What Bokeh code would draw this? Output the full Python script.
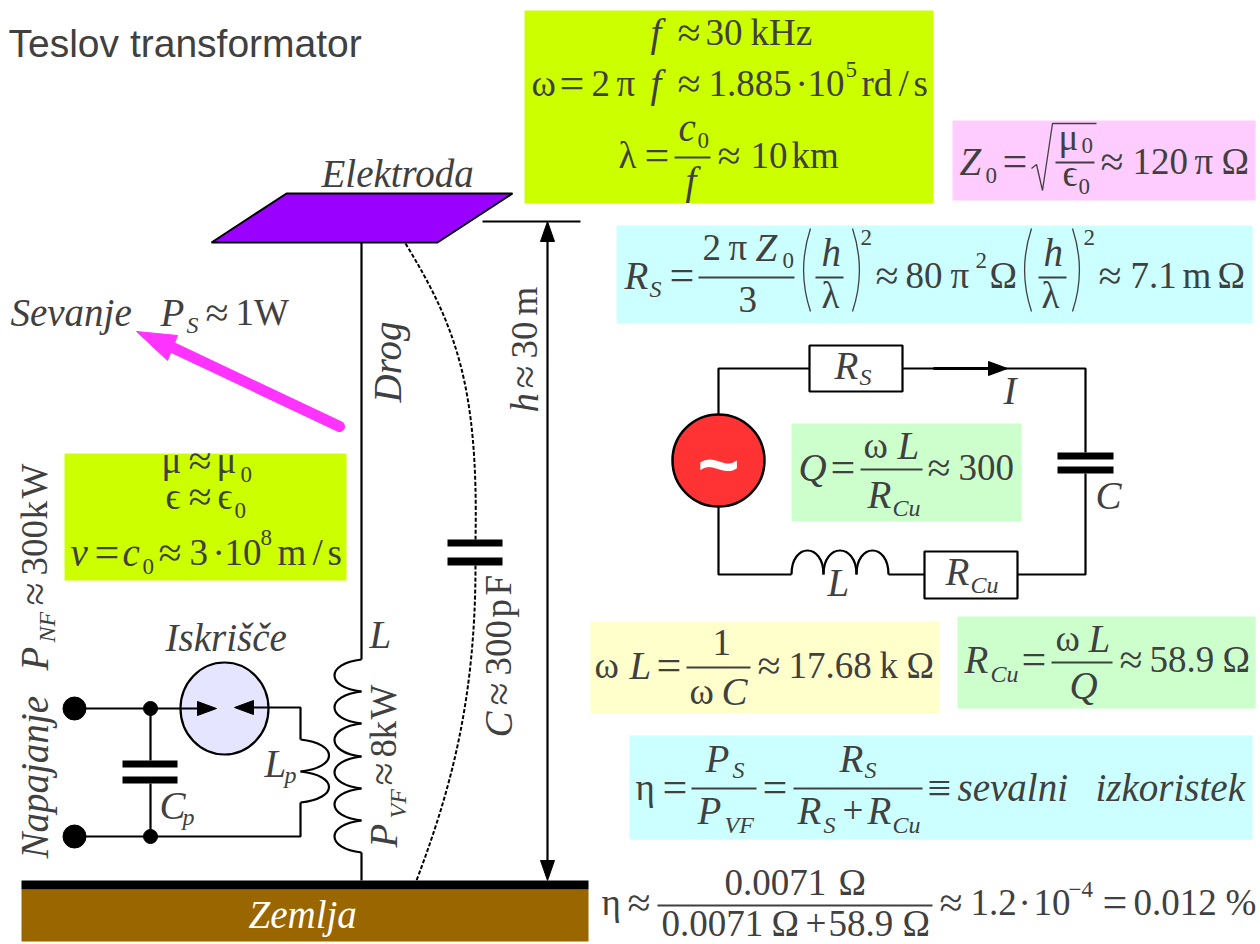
from math import pi
from bokeh.plotting import figure
from bokeh.models import Range1d, ColumnDataSource
from bokeh.core.properties import value
from bokeh.embed import file_html
from bokeh.resources import INLINE

INK = "#404040"
SERIF = "Liberation Serif"
CENTER_SHIFT = 0.34

# ---- filled boxes: left, right, top, bottom, colour
BOX_LEFT = [524, 952, 616, 64, 791, 590, 957, 629, 21, 21]
BOX_RIGHT = [933, 1255, 1252, 346, 1021, 939, 1255, 1252, 588, 588]
BOX_TOP = [10, 120, 225, 453, 423, 621, 616, 735, 889, 880]
BOX_BOTTOM = [203, 200, 323, 580, 521, 713, 708, 839, 941, 889]
BOX_COLOR = ["#CCFF00", "#FFCCFF", "#CCFFFF", "#CCFF00", "#CCFFCC", "#FFFFCC", "#CCFFCC", "#CCFFFF", "#996600", "#000000"]

# ---- black wires
WIRES = [
    ([361, 361], [242, 659]), ([361, 361], [852, 880]),
    ([482, 580], [221, 221]), ([547, 547], [232, 870]),
    ([74, 200], [708, 708]), ([150, 150], [708, 760]), ([150, 150], [783, 836]),
    ([74, 300, 300], [836, 836, 802]), ([250, 300, 300], [707, 707, 739]),
    ([809, 718, 718], [368, 368, 414]), ([718, 718, 791], [506, 574, 574]),
    ([902, 1085, 1085], [368, 368, 452]), ([1085, 1085, 1017], [473, 574, 574]),
    ([888, 924], [574, 574]),
]
THICK_X = [[933, 1000]]
THICK_Y = [[368, 368]]

# ---- coils as cubic segments
COIL_Y0 = [659, 691, 723, 756, 788, 820]
COIL_Y1 = [691, 723, 756, 788, 820, 852]
COIL_X = 361
COIL_BULGE = 325
LP_Y0 = [739, 771]
LP_Y1 = [771, 802]
LP_X = 300
LP_BULGE = 338
HUMP_X0 = [791, 823, 856]
HUMP_X1 = [823, 856, 888]
HUMP_BASE = 574
HUMP_CTRL = 542

# ---- dashed capacitive path: x0,y0,cx0,cy0,cx1,cy1,x1,y1
DASH_SEG = [(405, 243, 455, 325, 478, 385, 475, 539), (475, 565, 475, 700, 450, 790, 416, 880)]
# ---- parentheses
PAREN_SEG = [
    (810, 228, 801, 255, 801, 284, 810, 311), (852, 228, 861, 255, 861, 284, 852, 311),
    (1031, 228, 1022, 255, 1022, 284, 1031, 311), (1072, 228, 1081, 255, 1081, 284, 1072, 311),
]

# ---- capacitor plates: left, right, top, bottom
PLATE_L = [447, 447, 122, 122, 1057, 1057]
PLATE_R = [502, 502, 177, 177, 1113, 1113]
PLATE_T = [539, 557, 760, 776, 452, 466]
PLATE_B = [546, 565, 767, 783, 459, 473]

# ---- white resistor boxes
RES_L = [809, 924]
RES_R = [902, 1017]
RES_T = [345, 551]
RES_B = [391, 598]

# ---- arrow heads (black)
HEAD_X = [[547, 540, 554], [547, 540, 554], [216, 197, 197], [234, 253, 253], [1007, 988, 988]]
HEAD_Y = [[221, 241, 241], [880, 860, 860], [708, 701, 715], [707, 700, 714], [368, 361, 375]]

# ---- electrode and radiation arrow
PLATE_X = [286, 512, 437, 211]
PLATE_Y = [193, 193, 242, 242]
RAD_X = [339, 172]
RAD_Y = [426, 347]
RADH_X = [136, 177, 167]
RADH_Y = [331, 335, 360]

# ---- round things: x, y, w, h
DOT_X = [74, 74, 150, 150]
DOT_Y = [708, 836, 708, 836]
DOT_W = [23, 23, 14, 14]
DOT_H = [23, 23, 14, 14]

# ---- fraction bars: x0, x1, y
FRAC = [
    (674, 710, 157), (1055, 1094, 162), (698, 794, 277), (815, 843, 277), (1038, 1066, 277),
    (860, 922, 469), (686, 750, 667), (1051, 1112, 662), (691, 756, 788), (793, 922, 788), (657, 932, 905),
]
RADICAL_X = [1031, 1036, 1042, 1052, 1096]
RADICAL_Y = [168, 164, 190, 123, 123]

# ---- text runs: x, baseline y, text, kind
KIND = {"M": (37, "normal"), "I": (39, "italic"), "s": (23, "normal"), "i": (24, "italic"),
        "A": (42, "normal"), "E": (44, "normal")}

TOP_BOX = [
    (650, 45, "f", "I"), (677, 47, "≈", "A"), (705, 45, "30", "M"), (750, 45, "kHz", "M"),
    (531, 96, "ω", "M"), (559, 98, "=", "E"), (591, 96, "2", "M"), (616, 96, "π", "M"), (650, 96, "f", "I"),
    (677, 98, "≈", "A"), (708, 96, "1.885", "M"), (795, 96, "·", "M"), (807, 96, "10", "M"), (845, 77, "5", "s"),
    (861, 96, "rd", "M"), (898, 96, "/", "M"), (913, 96, "s", "M"),
    (618, 168, "λ", "M"), (644, 170, "=", "E"), (678, 140, "c", "I"), (697, 148, "0", "s"), (685, 193, "f", "I"),
    (717, 170, "≈", "A"), (750, 168, "10", "M"), (791, 168, "km", "M"),
]
PINK_BOX = [
    (959, 174, "Z", "I"), (985, 183, "0", "s"), (1002, 176, "=", "E"), (1058, 150, "μ", "M"), (1081, 153, "0", "s"),
    (1062, 186, "ϵ", "M"), (1078, 194, "0", "s"), (1100, 176, "≈", "A"), (1132, 174, "120", "M"), (1194, 174, "π", "M"),
    (1221, 174, "Ω", "M"),
]
RS_BOX = [
    (624, 288, "R", "I"), (649, 297, "S", "i"), (669, 290, "=", "E"), (702, 260, "2", "M"), (728, 260, "π", "M"),
    (755, 260, "Z", "I"), (782, 268, "0", "s"), (738, 312, "3", "M"), (821, 265, "h", "I"), (821, 308, "λ", "M"),
    (860, 245, "2", "s"), (875, 290, "≈", "A"), (905, 288, "80", "M"), (950, 288, "π", "M"), (975, 268, "2", "s"),
    (989, 288, "Ω", "M"), (1043, 265, "h", "I"), (1041, 308, "λ", "M"), (1083, 245, "2", "s"), (1098, 290, "≈", "A"),
    (1130, 288, "7.1", "M"), (1182, 288, "m", "M"), (1217, 288, "Ω", "M"),
]
CIRCUIT = [
    (834, 378, "R", "I"), (859, 385, "S", "i"), (1003, 403, "I", "I"), (798, 480, "Q", "I"), (830, 482, "=", "E"),
    (863, 458, "ω", "M"), (897, 458, "L", "I"), (867, 507, "R", "I"), (892, 516, "Cu", "i"), (927, 482, "≈", "A"),
    (958, 480, "300", "M"), (1095, 508, "C", "I"), (827, 595, "L", "I"), (945, 584, "R", "I"), (970, 593, "Cu", "i"),
]
LOWER_RIGHT = [
    (594, 678, "ω", "M"), (629, 678, "L", "I"), (656, 680, "=", "E"), (712, 655, "1", "M"), (689, 704, "ω", "M"),
    (721, 704, "C", "I"), (757, 680, "≈", "A"), (788, 678, "17.68", "M"), (879, 678, "k", "M"), (906, 678, "Ω", "M"),
    (964, 672, "R", "I"), (990, 682, "Cu", "i"), (1021, 674, "=", "E"), (1055, 651, "ω", "M"), (1088, 651, "L", "I"),
    (1069, 698, "Q", "I"), (1119, 674, "≈", "A"), (1149, 672, "58.9", "M"), (1222, 672, "Ω", "M"),
    (635, 800, "η", "M"), (662, 802, "=", "E"), (705, 771, "P", "I"), (732, 778, "S", "i"), (697, 823, "P", "I"),
    (724, 833, "VF", "i"), (762, 802, "=", "E"), (839, 771, "R", "I"), (864, 778, "S", "i"), (797, 823, "R", "I"),
    (823, 833, "S", "i"), (842, 823, "+", "M"), (867, 823, "R", "I"), (892, 833, "Cu", "i"), (927, 802, "≡", "A"),
    (957, 800, "sevalni", "I"), (1095, 800, "izkoristek", "I"),
    (601, 915, "η", "M"), (627, 917, "≈", "A"), (724, 895, "0.0071", "M"), (838, 895, "Ω", "M"), (661, 936, "0.0071", "M"),
    (771, 936, "Ω", "M"), (805, 936, "+", "M"), (828, 936, "58.9", "M"), (902, 936, "Ω", "M"), (939, 917, "≈", "A"),
    (970, 915, "1.2", "M"), (1018, 915, "·", "M"), (1033, 915, "10", "M"), (1068, 897, "−4", "s"), (1102, 917, "=", "E"),
    (1133, 915, "0.012", "M"), (1225, 915, "%", "M"),
]
LEFT_TEXT = [
    (321, 186, "Elektroda", "I"), (10, 325, "Sevanje", "I"), (160, 325, "P", "I"), (186, 333, "S", "i"),
    (205, 327, "≈", "A"), (235, 325, "1W", "M"),
    (161, 473, "μ", "M"), (188, 475, "≈", "A"), (216, 473, "μ", "M"), (240, 482, "0", "s"),
    (165, 509, "ϵ", "M"), (188, 511, "≈", "A"), (217, 509, "ϵ", "M"), (234, 518, "0", "s"),
    (70, 565, "v", "I"), (94, 567, "=", "E"), (122, 565, "c", "I"), (142, 574, "0", "s"), (158, 567, "≈", "A"),
    (189, 565, "3", "M"), (212, 565, "·", "M"), (224, 565, "10", "M"), (260, 545, "8", "s"), (277, 565, "m", "M"),
    (312, 565, "/", "M"), (327, 565, "s", "M"),
    (165, 650, "Iskrišče", "I"), (369, 647, "L", "I"), (264, 776, "L", "I"), (284, 783, "p", "i"),
    (159, 818, "C", "I"), (182, 825, "p", "i"),
]
ROTATED_TEXT = [
    (400, 402, "Drog", "I"),
    (537, 412, "h", "I"), (539, 388, "≈", "A"), (537, 358, "30", "M"), (537, 315, "m", "M"),
    (47, 670, "P", "I"), (55, 642, "NF", "i"), (49, 605, "≈", "A"), (47, 575, "300", "M"), (47, 519, "k", "M"), (47, 498, "W", "M"),
    (47, 858, "Napajanje", "I"),
    (396, 847, "P", "I"), (406, 818, "VF", "i"), (398, 785, "≈", "A"), (396, 757, "8", "M"), (396, 739, "k", "M"), (396, 719, "W", "M"),
    (511, 737, "C", "I"), (513, 705, "≈", "A"), (511, 675, "300", "M"), (511, 617, "p", "M"), (511, 595, "F", "M"),
]
GROUND_TEXT = [(248, 927, "Zemlja", "I")]
TITLE = "Teslov transformator"
TILDE = "~"

p = figure(width=1260, height=944, x_range=Range1d(0, 1260), y_range=Range1d(944, 0),
           output_backend="svg", toolbar_location=None, min_border=0, outline_line_color=None)
p.axis.visible = False
p.grid.visible = False
p.background_fill_color = "white"


def segs(items, **kw):
    p.bezier(x0=[s[0] for s in items], y0=[s[1] for s in items], cx0=[s[2] for s in items], cy0=[s[3] for s in items],
             cx1=[s[4] for s in items], cy1=[s[5] for s in items], x1=[s[6] for s in items], y1=[s[7] for s in items], **kw)


def runs(items, color=INK, angle=0.0):
    rotated = angle != 0.0
    xs, ys = [], []
    for r in items:
        shift = CENTER_SHIFT * KIND[r[3]][0]
        xs.append(r[0] - shift if rotated else r[0])
        ys.append(r[1] if rotated else r[1] - shift)
    src = ColumnDataSource(dict(
        x=xs, y=ys, t=[r[2] for r in items],
        size=[f"{KIND[r[3]][0]}px" for r in items], style=[KIND[r[3]][1] for r in items]))
    p.text("x", "y", text="t", source=src, text_font=value(SERIF), text_font_size="size", text_font_style="style",
           text_color=color, text_align="left", text_baseline="alphabetic", angle=angle)


p.quad(left=BOX_LEFT, right=BOX_RIGHT, top=BOX_TOP, bottom=BOX_BOTTOM, fill_color=BOX_COLOR, line_color=None)

# electrode
p.patch(PLATE_X, PLATE_Y, fill_color="#9900FF", line_color="black", line_width=2)
# radiation arrow
p.line(RAD_X, RAD_Y, line_color="#FF33FF", line_width=11, line_cap="round")
p.patch(RADH_X, RADH_Y, fill_color="#FF33FF", line_color="#FF33FF", line_width=1)

# spark gap sits under the wires
p.ellipse(x=[224], y=[708], width=[88], height=[92], fill_color="#E5E5FF", line_color="black", line_width=2.2)

# wires
p.multi_line([w[0] for w in WIRES], [w[1] for w in WIRES], line_color="black", line_width=2.2)
p.multi_line(THICK_X, THICK_Y, line_color="black", line_width=3)

# dashed path
segs(DASH_SEG, line_color="black", line_width=2, line_dash="4 2")
# coils
coil = [(COIL_X, a, COIL_BULGE, a + 4, COIL_BULGE, b - 4, COIL_X, b) for a, b in zip(COIL_Y0, COIL_Y1)]
segs(coil, line_color="black", line_width=2.2)
lp = [(LP_X, a, LP_BULGE, a + 4, LP_BULGE, b - 4, LP_X, b) for a, b in zip(LP_Y0, LP_Y1)]
segs(lp, line_color="black", line_width=2.2)
hump = [(a, HUMP_BASE, a, HUMP_CTRL, b, HUMP_CTRL, b, HUMP_BASE) for a, b in zip(HUMP_X0, HUMP_X1)]
segs(hump, line_color="black", line_width=2.2)

# source
p.ellipse(x=[718], y=[460], width=[92], height=[92], fill_color="#FF3333", line_color="black", line_width=2.5)
p.text([718], [463], text=[TILDE], text_font=value("Liberation Sans"), text_font_size="72px", text_font_style="bold",
       text_color="white", text_align="center", text_baseline="middle")

# junctions, plates, resistors, heads
p.ellipse(x=DOT_X, y=DOT_Y, width=DOT_W, height=DOT_H, fill_color="black", line_color="black")
p.quad(left=PLATE_L, right=PLATE_R, top=PLATE_T, bottom=PLATE_B, fill_color="black", line_color=None)
p.quad(left=RES_L, right=RES_R, top=RES_T, bottom=RES_B, fill_color="white", line_color="black", line_width=2.2)
p.patches(HEAD_X, HEAD_Y, fill_color="black", line_color="black", line_width=1)

# formula strokes
p.segment(x0=[f[0] for f in FRAC], x1=[f[1] for f in FRAC], y0=[f[2] for f in FRAC], y1=[f[2] for f in FRAC],
          line_color=INK, line_width=2)
p.line(RADICAL_X, RADICAL_Y, line_color=INK, line_width=1.3)
segs(PAREN_SEG, line_color=INK, line_width=1.3)

# text
p.text([8], [56 - CENTER_SHIFT * 39], text=[TITLE], text_font=value("Liberation Sans"), text_font_size="39px", text_color=INK,
       text_align="left", text_baseline="alphabetic")
for group in (TOP_BOX, PINK_BOX, RS_BOX, CIRCUIT, LOWER_RIGHT, LEFT_TEXT):
    runs(group)
runs(ROTATED_TEXT, angle=pi / 2)
runs(GROUND_TEXT, color="white")

open("out.html", "w").write(file_html(p, INLINE))
